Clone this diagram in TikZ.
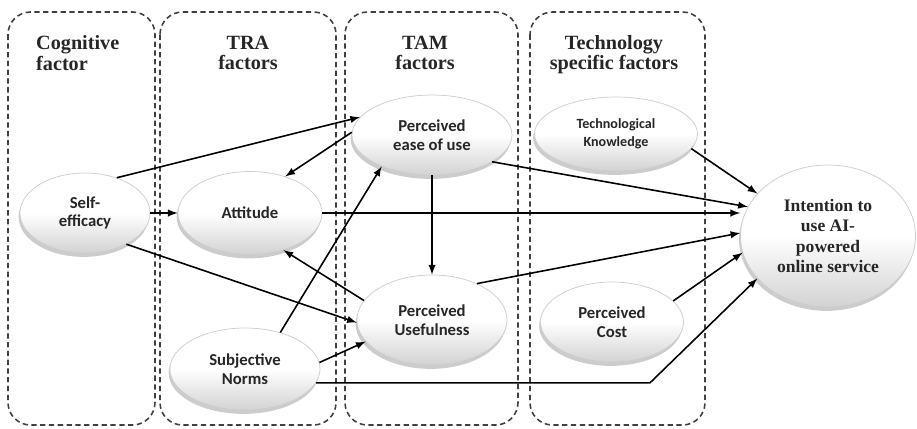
\documentclass[tikz,border=0pt]{standalone}
\usepackage{fontspec}
\setmainfont{Liberation Serif}
\newfontfamily\ovalfont{Carlito}
\usetikzlibrary{shapes.geometric,shadows}

\begin{document}
\begin{tikzpicture} [>=latex,
	panel/.style={draw=black!75, line width=0.9pt, dash pattern=on 3pt off 2pt, rounded corners=0.45cm},
	head/.style={font=\fontsize{11.5}{11.5}\selectfont\bfseries, text=black!85, align=center},
	oval/.style={ellipse, draw=gray!40, inner sep=0pt, top color=white, bottom color=gray!35, middle color=white,
		drop shadow={opacity=0.4, shadow xshift=-0.8pt, shadow yshift=-2.2pt},
		font=\ovalfont\fontsize{9.5}{10.5}\selectfont\bfseries, text=black!85, align=center},
	link/.style={->, line width=0.9pt}]
		\useasboundingbox (0,0) rectangle (18.34,-8.56);
		% factor groups
		\draw[panel] (0.16,-0.24) rectangle (3.1,-8.5);
		\draw[panel] (3.2,-0.24) rectangle (6.72,-8.5);
		\draw[panel] (6.9,-0.24) rectangle (10.36,-8.5);
		\draw[panel] (10.6,-0.24) rectangle (14.1,-8.5);
		\node[head, anchor=west, align=left] (hcog) at (0.6,-1.06) {Cognitive\\factor};
		\node[head] (htra) at (4.96,-1.06) {TRA\\factors};
		\node[head] (htam) at (8.5,-1.06) {TAM\\factors};
		\node[head] (htech) at (12.28,-1.1) {Technology\\specific factors};
		% constructs
		\node[oval, minimum width=2.6cm, minimum height=1.6cm] (se) at (1.7,-4.26) {Self-\\efficacy};
		\node[oval, minimum width=2.88cm, minimum height=1.66cm] (att) at (5.0,-4.26) {Attitude};
		\node[oval, minimum width=3.2cm, minimum height=1.6cm] (peou) at (8.64,-2.7) {Perceived\\ease of use};
		\node[oval, minimum width=3.0cm, minimum height=1.8cm] (pu) at (8.64,-6.4) {Perceived\\Usefulness};
		\node[oval, minimum width=3.0cm, minimum height=1.64cm] (sn) at (4.9,-7.38) {Subjective\\Norms};
		\node[oval, minimum width=3.26cm, minimum height=1.48cm, font=\ovalfont\fontsize{8}{10}\selectfont\bfseries] (tk) at (12.32,-2.68) {Technological\\Knowledge};
		\node[oval, minimum width=2.86cm, minimum height=1.6cm] (pc) at (12.24,-6.44) {Perceived\\Cost};
		\node[oval, minimum width=3.5cm, minimum height=2.84cm, font=\fontsize{10}{11.5}\selectfont\bfseries] (int) at (16.56,-4.72) {Intention to\\use AI-\\powered\\online service};
		\coordinate (bend) at (13.0,-7.66);
		% paths
		\draw[link] (se.48) -- (peou.166);
		\draw[link] (peou.178) -- (att.46);
		\draw[link] (se.east) -- (att.west);
		\draw[link] (se.-37) -- (pu.182);
		\draw[link] (sn.46) -- (peou.212);
		\draw[link] (pu.164) -- (att.-48);
		\draw[link] (sn.5) -- (pu.198);
		\draw[link] (sn.-11) -- (sn.-11 -| bend) -- (int.211);
		\draw[link] (peou.-24) -- (int.160);
		\draw[link] (att.east) -- (att.east -| int.west);
		\draw[link] (peou.south) -- (pu.north);
		\draw[link] (pu.39) -- (int.178);
		\draw[link] (tk.-11) -- (int.149);
		\draw[link] (pc.19) -- (int.191);
		\end{tikzpicture}
\end{document}
